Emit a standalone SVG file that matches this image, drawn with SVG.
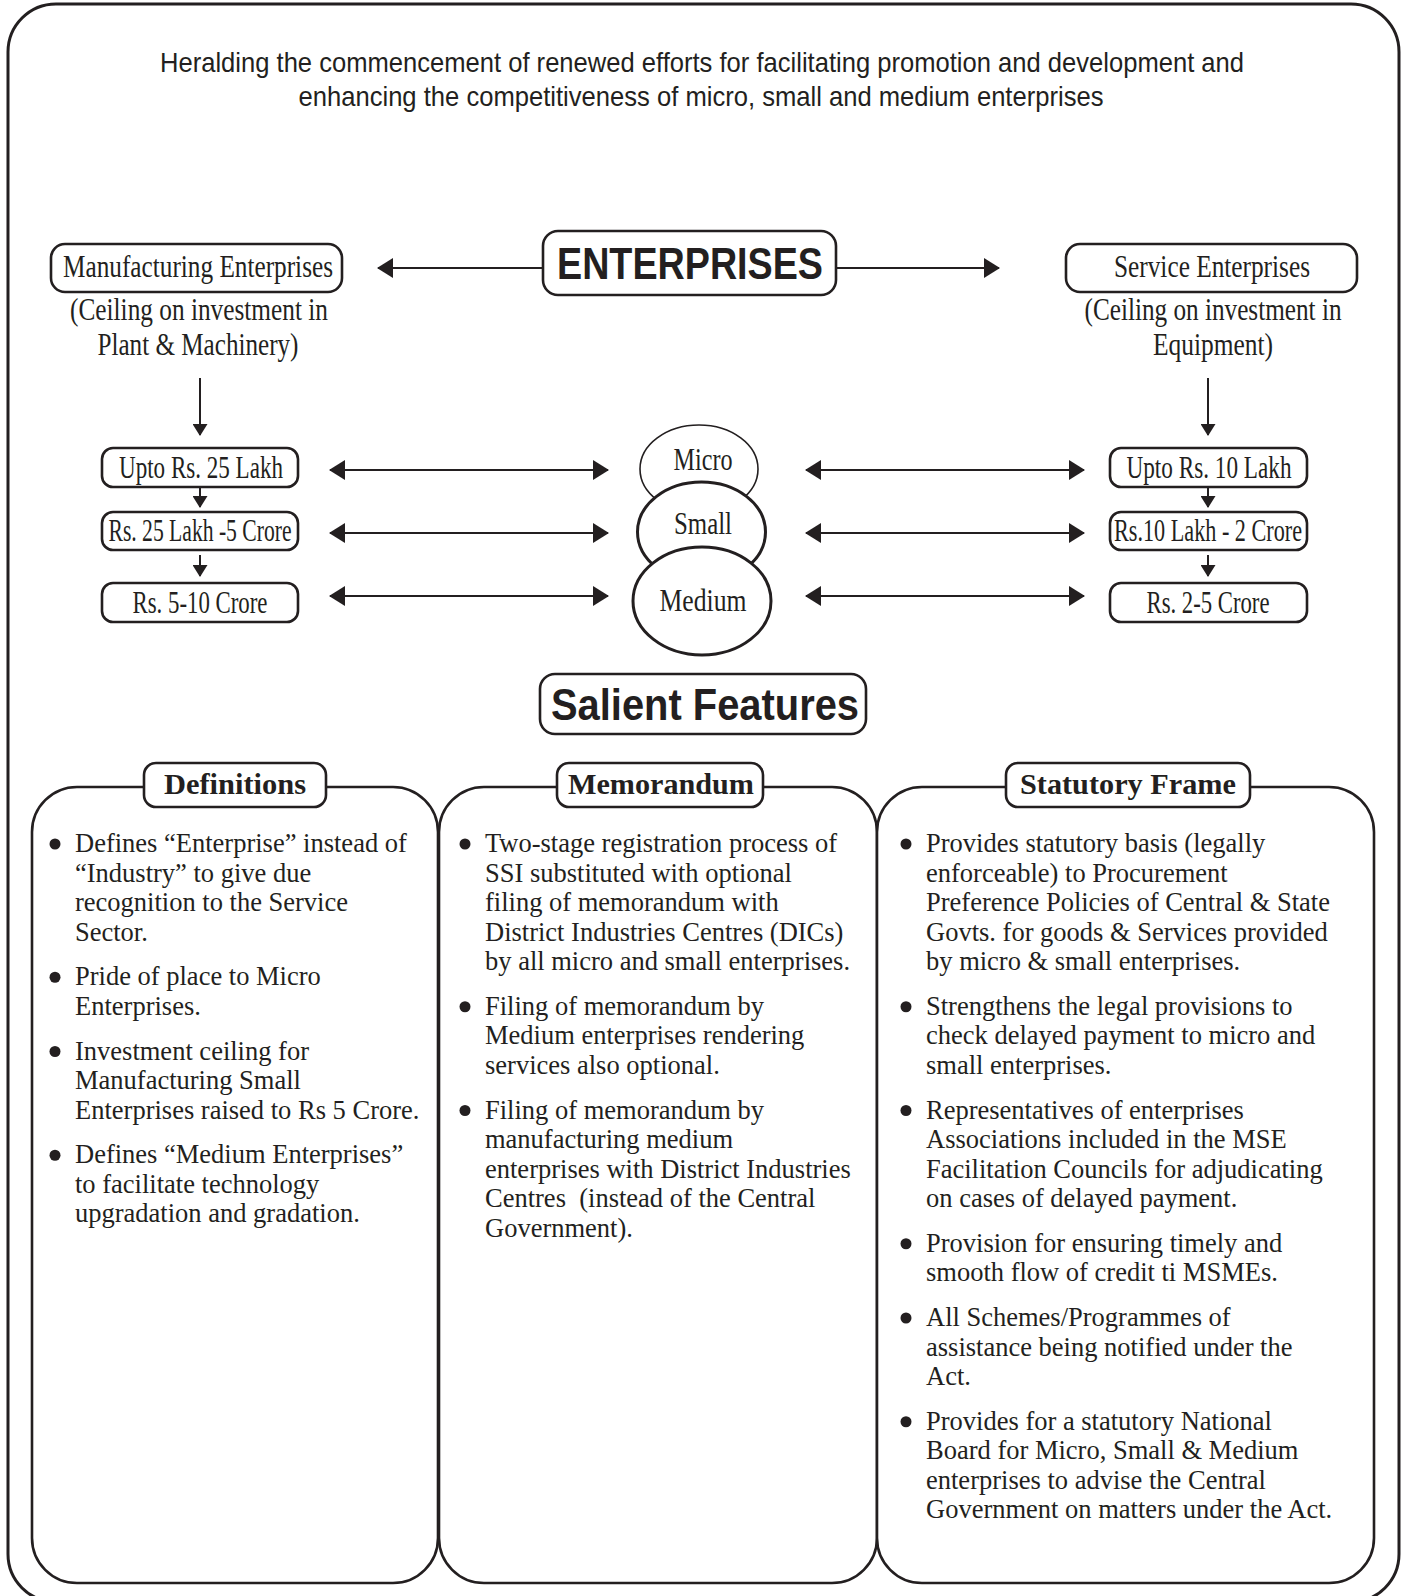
<svg xmlns="http://www.w3.org/2000/svg" width="1408" height="1596" viewBox="0 0 1408 1596">
<style>
.box{fill:#fff;stroke:#231f20;stroke-width:2.6}
.frame{fill:none;stroke:#231f20;stroke-width:3}
.panel{fill:#fff;stroke:#231f20;stroke-width:2.6}
.ln{stroke:#231f20;stroke-width:2;fill:none}
.ser{font-family:"Liberation Serif","Times New Roman",serif;fill:#231f20}
.san{font-family:"Liberation Sans",Arial,sans-serif;fill:#231f20}
.top{font-size:31px;text-anchor:middle}
.hd{font-size:30px;font-weight:bold;text-anchor:middle}
.body{font-size:26.5px}
.dot{fill:#231f20}
</style>
<defs>
<marker id="ah" viewBox="0 0 16 20" refX="15" refY="10" markerWidth="16" markerHeight="20" markerUnits="userSpaceOnUse" orient="auto-start-reverse"><path d="M0,0 L16,10 L0,20 z" fill="#231f20"/></marker>
<marker id="ahd" viewBox="0 0 12 15" refX="11" refY="7.5" markerWidth="12" markerHeight="15" markerUnits="userSpaceOnUse" orient="auto"><path d="M0,0 L12,7.5 L0,15 z" fill="#231f20"/></marker>
</defs>
<rect width="1408" height="1596" fill="#fff"/>
<rect class="frame" x="8" y="4" width="1391" height="1598" rx="48" ry="48"/>

<g id="title">
<text class="san" x="702" y="72" font-size="28" text-anchor="middle" textLength="1084" lengthAdjust="spacingAndGlyphs">Heralding the commencement of renewed efforts for facilitating promotion and development and</text>
<text class="san" x="701" y="106" font-size="28" text-anchor="middle" textLength="805" lengthAdjust="spacingAndGlyphs">enhancing the competitiveness of micro, small and medium enterprises</text>
</g>

<g id="connectors">
<line class="ln" x1="543" y1="268" x2="378" y2="268" marker-end="url(#ah)"/>
<line class="ln" x1="836" y1="268" x2="999" y2="268" marker-end="url(#ah)"/>
<line class="ln" x1="200" y1="378" x2="200" y2="435" marker-end="url(#ahd)"/>
<line class="ln" x1="1208" y1="378" x2="1208" y2="435" marker-end="url(#ahd)"/>
<line class="ln" x1="200" y1="487" x2="200" y2="507" marker-end="url(#ahd)"/>
<line class="ln" x1="200" y1="555" x2="200" y2="576" marker-end="url(#ahd)"/>
<line class="ln" x1="1208" y1="487" x2="1208" y2="507" marker-end="url(#ahd)"/>
<line class="ln" x1="1208" y1="555" x2="1208" y2="576" marker-end="url(#ahd)"/>
<line class="ln" x1="330" y1="470" x2="608" y2="470" marker-start="url(#ah)" marker-end="url(#ah)"/>
<line class="ln" x1="330" y1="533" x2="608" y2="533" marker-start="url(#ah)" marker-end="url(#ah)"/>
<line class="ln" x1="330" y1="596" x2="608" y2="596" marker-start="url(#ah)" marker-end="url(#ah)"/>
<line class="ln" x1="806" y1="470" x2="1084" y2="470" marker-start="url(#ah)" marker-end="url(#ah)"/>
<line class="ln" x1="806" y1="533" x2="1084" y2="533" marker-start="url(#ah)" marker-end="url(#ah)"/>
<line class="ln" x1="806" y1="596" x2="1084" y2="596" marker-start="url(#ah)" marker-end="url(#ah)"/>
</g>

<g id="enterprises">
<rect class="box" x="543" y="231" width="293" height="64" rx="15"/>
<text class="san" x="690" y="279" font-size="44" font-weight="bold" text-anchor="middle" textLength="266" lengthAdjust="spacingAndGlyphs">ENTERPRISES</text>
</g>

<g id="manufacturing">
<rect class="box" x="51" y="244" width="291" height="48" rx="14"/>
<text class="ser top" x="198" y="277" textLength="270" lengthAdjust="spacingAndGlyphs">Manufacturing Enterprises</text>
<text class="ser top" x="199" y="320" textLength="258" lengthAdjust="spacingAndGlyphs">(Ceiling on investment in</text>
<text class="ser top" x="198" y="355" textLength="201" lengthAdjust="spacingAndGlyphs">Plant &amp; Machinery)</text>
</g>

<g id="service">
<rect class="box" x="1066" y="244" width="291" height="48" rx="14"/>
<text class="ser top" x="1212" y="277" textLength="196" lengthAdjust="spacingAndGlyphs">Service Enterprises</text>
<text class="ser top" x="1213" y="320" textLength="257" lengthAdjust="spacingAndGlyphs">(Ceiling on investment in</text>
<text class="ser top" x="1213" y="355" textLength="120" lengthAdjust="spacingAndGlyphs">Equipment)</text>
</g>

<g id="m1">
<rect class="box" x="102" y="448" width="196" height="39" rx="11"/>
<text class="ser top" x="201" y="478" textLength="164" lengthAdjust="spacingAndGlyphs">Upto Rs. 25 Lakh</text>
</g>
<g id="m2">
<rect class="box" x="102" y="512" width="196" height="38" rx="11"/>
<text class="ser top" x="200" y="541" textLength="183" lengthAdjust="spacingAndGlyphs">Rs. 25 Lakh -5 Crore</text>
</g>
<g id="m3">
<rect class="box" x="102" y="583" width="196" height="39" rx="11"/>
<text class="ser top" x="200" y="613" textLength="135" lengthAdjust="spacingAndGlyphs">Rs. 5-10 Crore</text>
</g>
<g id="s1">
<rect class="box" x="1110" y="448" width="197" height="39" rx="11"/>
<text class="ser top" x="1209" y="478" textLength="165" lengthAdjust="spacingAndGlyphs">Upto Rs. 10 Lakh</text>
</g>
<g id="s2">
<rect class="box" x="1110" y="512" width="197" height="38" rx="11"/>
<text class="ser top" x="1208" y="541" textLength="188" lengthAdjust="spacingAndGlyphs">Rs.10 Lakh - 2 Crore</text>
</g>
<g id="s3">
<rect class="box" x="1110" y="583" width="197" height="39" rx="11"/>
<text class="ser top" x="1208" y="613" textLength="123" lengthAdjust="spacingAndGlyphs">Rs. 2-5 Crore</text>
</g>

<g id="micro">
<ellipse cx="699" cy="469" rx="59" ry="44" fill="#fff" stroke="#231f20" stroke-width="1.6"/>
<text class="ser top" x="703" y="470" textLength="59" lengthAdjust="spacingAndGlyphs">Micro</text>
</g>
<g id="small">
<ellipse cx="701.5" cy="532" rx="64" ry="50" fill="#fff" stroke="#231f20" stroke-width="3"/>
<text class="ser top" x="703" y="534" textLength="58" lengthAdjust="spacingAndGlyphs">Small</text>
</g>
<g id="medium">
<ellipse cx="702" cy="601" rx="69" ry="54" fill="#fff" stroke="#231f20" stroke-width="3"/>
<text class="ser top" x="703" y="611" textLength="87" lengthAdjust="spacingAndGlyphs">Medium</text>
</g>

<g id="salient">
<rect class="box" x="540" y="674" width="326" height="60" rx="15"/>
<text class="san" x="705" y="720" font-size="44" font-weight="bold" text-anchor="middle" textLength="308" lengthAdjust="spacingAndGlyphs">Salient Features</text>
</g>

<g id="panel-definitions">
<rect class="panel" x="32" y="787" width="406" height="796" rx="45"/>
<rect class="box" x="144" y="763" width="182" height="44" rx="12"/>
<text class="ser hd" x="235" y="794" textLength="142" lengthAdjust="spacingAndGlyphs">Definitions</text>
<g class="ser body">
<circle class="dot" cx="55" cy="844" r="5.5"/>
<text x="75" y="852">Defines “Enterprise” instead of<tspan x="75" dy="29.5">“Industry” to give due</tspan><tspan x="75" dy="29.5">recognition to the Service</tspan><tspan x="75" dy="29.5">Sector.</tspan></text>
<circle class="dot" cx="55" cy="977.25" r="5.5"/>
<text x="75" y="985.25">Pride of place to Micro<tspan x="75" dy="29.5">Enterprises.</tspan></text>
<circle class="dot" cx="55" cy="1051.5" r="5.5"/>
<text x="75" y="1059.5">Investment ceiling for<tspan x="75" dy="29.5">Manufacturing Small</tspan><tspan x="75" dy="29.5">Enterprises raised to Rs 5 Crore.</tspan></text>
<circle class="dot" cx="55" cy="1155.25" r="5.5"/>
<text x="75" y="1163.25">Defines “Medium Enterprises”<tspan x="75" dy="29.5">to facilitate technology</tspan><tspan x="75" dy="29.5">upgradation and gradation.</tspan></text>
</g>
</g>

<g id="panel-memorandum">
<rect class="panel" x="439" y="787" width="438" height="796" rx="45"/>
<rect class="box" x="557" y="763" width="206" height="44" rx="12"/>
<text class="ser hd" x="661" y="794" textLength="186" lengthAdjust="spacingAndGlyphs">Memorandum</text>
<g class="ser body">
<circle class="dot" cx="465" cy="844" r="5.5"/>
<text x="485" y="852">Two-stage registration process of<tspan x="485" dy="29.5">SSI substituted with optional</tspan><tspan x="485" dy="29.5">filing of memorandum with</tspan><tspan x="485" dy="29.5">District Industries Centres (DICs)</tspan><tspan x="485" dy="29.5">by all micro and small enterprises.</tspan></text>
<circle class="dot" cx="465" cy="1006.75" r="5.5"/>
<text x="485" y="1014.75">Filing of memorandum by<tspan x="485" dy="29.5">Medium enterprises rendering</tspan><tspan x="485" dy="29.5">services also optional.</tspan></text>
<circle class="dot" cx="465" cy="1110.5" r="5.5"/>
<text x="485" y="1118.5" xml:space="preserve">Filing of memorandum by<tspan x="485" dy="29.5">manufacturing medium</tspan><tspan x="485" dy="29.5">enterprises with District Industries</tspan><tspan x="485" dy="29.5">Centres  (instead of the Central</tspan><tspan x="485" dy="29.5">Government).</tspan></text>
</g>
</g>

<g id="panel-statutory">
<rect class="panel" x="877" y="787" width="497" height="796" rx="45"/>
<rect class="box" x="1006" y="763" width="244" height="44" rx="12"/>
<text class="ser hd" x="1128" y="794" textLength="216" lengthAdjust="spacingAndGlyphs">Statutory Frame</text>
<g class="ser body">
<circle class="dot" cx="906" cy="844" r="5.5"/>
<text x="926" y="852">Provides statutory basis (legally<tspan x="926" dy="29.5">enforceable) to Procurement</tspan><tspan x="926" dy="29.5">Preference Policies of Central &amp; State</tspan><tspan x="926" dy="29.5">Govts. for goods &amp; Services provided</tspan><tspan x="926" dy="29.5">by micro &amp; small enterprises.</tspan></text>
<circle class="dot" cx="906" cy="1006.75" r="5.5"/>
<text x="926" y="1014.75">Strengthens the legal provisions to<tspan x="926" dy="29.5">check delayed payment to micro and</tspan><tspan x="926" dy="29.5">small enterprises.</tspan></text>
<circle class="dot" cx="906" cy="1110.5" r="5.5"/>
<text x="926" y="1118.5">Representatives of enterprises<tspan x="926" dy="29.5">Associations included in the MSE</tspan><tspan x="926" dy="29.5">Facilitation Councils for adjudicating</tspan><tspan x="926" dy="29.5">on cases of delayed payment.</tspan></text>
<circle class="dot" cx="906" cy="1243.75" r="5.5"/>
<text x="926" y="1251.75">Provision for ensuring timely and<tspan x="926" dy="29.5">smooth flow of credit ti MSMEs.</tspan></text>
<circle class="dot" cx="906" cy="1318" r="5.5"/>
<text x="926" y="1326">All Schemes/Programmes of<tspan x="926" dy="29.5">assistance being notified under the</tspan><tspan x="926" dy="29.5">Act.</tspan></text>
<circle class="dot" cx="906" cy="1421.75" r="5.5"/>
<text x="926" y="1429.75">Provides for a statutory National<tspan x="926" dy="29.5">Board for Micro, Small &amp; Medium</tspan><tspan x="926" dy="29.5">enterprises to advise the Central</tspan><tspan x="926" dy="29.5">Government on matters under the Act.</tspan></text>
</g>
</g>
</svg>
